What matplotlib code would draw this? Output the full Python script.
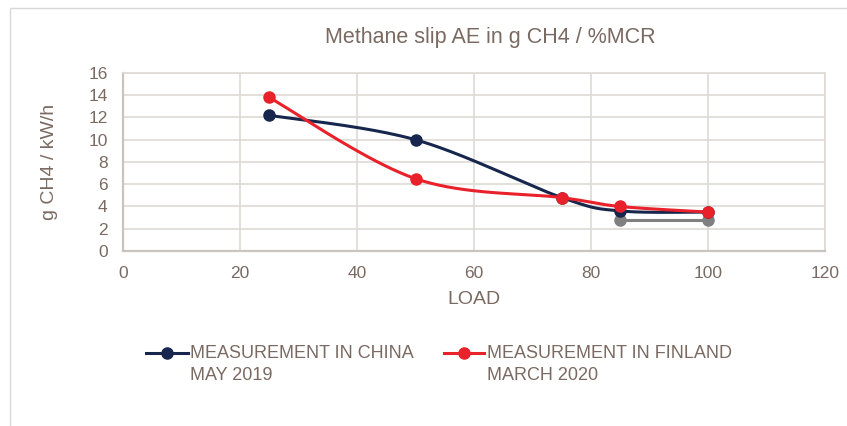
import numpy as np
import matplotlib
matplotlib.use("Agg")
import matplotlib.pyplot as plt
from matplotlib.patches import Rectangle

plt.rcParams['font.family'] = ['Liberation Sans', 'DejaVu Sans']

# Data
load_china = [25, 50, 75, 85, 100]
slip_china = [12.2, 10.0, 4.8, 3.6, 3.5]
load_finland = [25, 50, 75, 85, 100]
slip_finland = [13.8, 6.5, 4.8, 4.0, 3.5]
load_ref = [85, 100]
slip_ref = [2.8, 2.8]
label_china = ["MEASUREMENT IN CHINA", "MAY 2019"]
label_finland = ["MEASUREMENT IN FINLAND", "MARCH 2020"]
x_ticks = [0, 20, 40, 60, 80, 100, 120]
y_ticks = [0, 2, 4, 6, 8, 10, 12, 14, 16]

TEXT = "#7a6a62"
NAVY = "#17264d"
RED = "#e8212b"
GREY = "#808080"

W, H = 847, 426


def smooth(xs, ys, n=40, t=1/6):
    """Spreadsheet-style smoothed line: cubic Bezier segments between points."""
    xs = np.asarray(xs, float)
    ys = np.asarray(ys, float)
    px, py = [], []
    m = len(xs)
    for i in range(m - 1):
        x0, y0 = xs[i], ys[i]
        x3, y3 = xs[i + 1], ys[i + 1]
        xa, ya = (xs[i - 1], ys[i - 1]) if i > 0 else (x0, y0)
        xb, yb = (xs[i + 2], ys[i + 2]) if i + 2 < m else (x3, y3)
        x1, y1 = x0 + (x3 - xa) * t, y0 + (y3 - ya) * t
        x2, y2 = x3 - (xb - x0) * t, y3 - (yb - y0) * t
        s = np.linspace(0, 1, n)
        px.append((1 - s) ** 3 * x0 + 3 * (1 - s) ** 2 * s * x1 + 3 * (1 - s) * s ** 2 * x2 + s ** 3 * x3)
        py.append((1 - s) ** 3 * y0 + 3 * (1 - s) ** 2 * s * y1 + 3 * (1 - s) * s ** 2 * y2 + s ** 3 * y3)
    return np.concatenate(px), np.concatenate(py)


def fx(px):
    return px / W


def fy(py):
    return 1 - py / H


fig = plt.figure(figsize=(W / 100, H / 100), dpi=100)
fig.patch.set_facecolor("white")

# chart frame
fig.patches.append(Rectangle((fx(10), -0.05), 1.0, fy(8) + 0.05,
                             transform=fig.transFigure, fill=False,
                             edgecolor="#d9d9d9", linewidth=1.0))

ax = fig.add_axes([fx(123), fy(251), (825 - 123) / W, (251 - 73) / H])
ax.set_xlim(0, 120)
ax.set_ylim(0, 16)
ax.set_xticks(x_ticks)
ax.set_yticks(y_ticks)
ax.grid(True, color="#dedad6", linewidth=1.2)
ax.set_axisbelow(True)
for side in ["top", "right"]:
    ax.spines[side].set_color("#dedad6")
    ax.spines[side].set_linewidth(1.2)
for side in ["left", "bottom"]:
    ax.spines[side].set_color("#c9c4bf")
    ax.spines[side].set_linewidth(1.6)
ax.tick_params(length=0, labelcolor=TEXT, labelsize=12.5)
ax.tick_params(axis="x", pad=11)
ax.tick_params(axis="y", pad=11)

MS = 8

sx, sy = smooth(load_ref, slip_ref)
ax.plot(sx, sy, color=GREY, lw=2.2, zorder=2)
ax.plot(load_ref, slip_ref, "o", color=GREY, ms=MS, zorder=2)

sx, sy = smooth(load_china, slip_china)
ax.plot(sx, sy, color=NAVY, lw=2.2, zorder=3)
ax.plot(load_china, slip_china, "o", color=NAVY, ms=MS, zorder=3)

sx, sy = smooth(load_finland, slip_finland)
ax.plot(sx, sy, color=RED, lw=2.2, zorder=4)
ax.plot(load_finland, slip_finland, "o", color=RED, ms=MS, zorder=4)

# axis titles
fig.text(fx(474), fy(299), "LOAD", ha="center", va="center", color=TEXT, fontsize=14)
fig.text(fx(50), fy(162), "g CH4 / kW/h", ha="center", va="center",
         rotation=90, color=TEXT, fontsize=14)

fig.text(fx(490), fy(37), "Methane slip AE in g CH4 / %MCR",
         ha="center", va="center", color=TEXT, fontsize=15.5)


# legend
def legend_entry(x_line0, x_line1, x_text, y, color, lines):
    fig.add_artist(plt.Line2D([fx(x_line0), fx(x_line1)], [fy(y)] * 2,
                              transform=fig.transFigure, color=color, lw=2.2))
    fig.add_artist(plt.Line2D([fx((x_line0 + x_line1) / 2)], [fy(y)],
                              transform=fig.transFigure, marker="o", color=color, ms=MS))
    for k, line in enumerate(lines):
        fig.text(fx(x_text), fy(y + 22 * k), line, ha="left", va="center",
                 color=TEXT, fontsize=13)


legend_entry(146, 188, 190, 353, NAVY, label_china)
legend_entry(444, 484, 487, 353, RED, label_finland)

fig.savefig("out.png", dpi=100)
